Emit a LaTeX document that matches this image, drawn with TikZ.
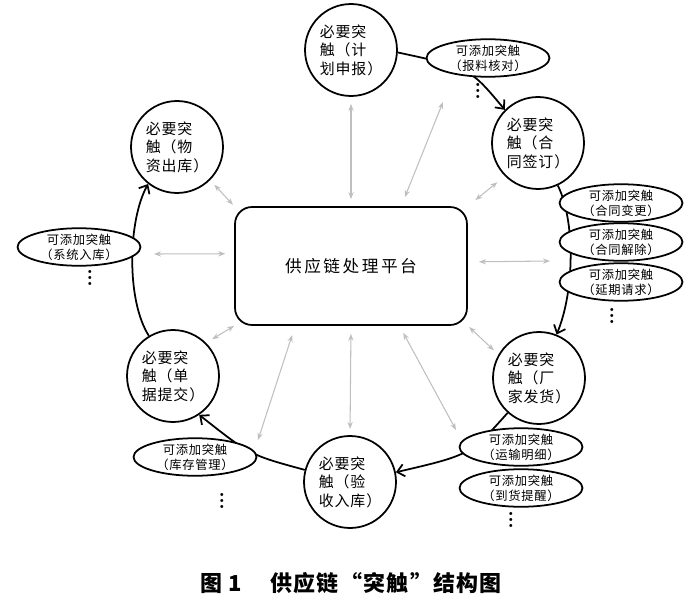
\documentclass[tikz,border=0pt]{standalone}
\usepackage{fontspec}
\newfontfamily\cjk[LetterSpace=6]{Noto Sans CJK SC}
\newfontfamily\cjkw[LetterSpace=15]{Noto Sans CJK SC}
\newfontfamily\capfont[LetterSpace=6]{Noto Sans CJK SC}
\newcommand\vdts{\vbox{\baselineskip3.4pt\lineskiplimit0pt\hbox{.}\hbox{.}\hbox{.}}}
\usetikzlibrary{shapes.geometric,arrows.meta}
\begin{document}
\begin{tikzpicture}[x=0.02cm,y=-0.02cm,>={Straight Barb[length=4pt,width=7pt]},
    bx/.style={circle,draw,line width=1pt,minimum size=1.84cm,inner sep=0pt,align=left,font=\cjk\fontsize{8.5}{10.5}\selectfont},
    opt/.style={ellipse,draw,fill=white,line width=1pt,minimum width=2.46cm,minimum height=0.6cm,inner sep=0pt,align=center,font=\cjk\fontsize{7}{8.5}\selectfont},
    cyc/.style={->,line width=1pt},
    gar/.style={{Stealth[length=4pt,width=3pt]}-{Stealth[length=4pt,width=3pt]},gray!50,line width=.6pt}]
    \useasboundingbox (0,0) rectangle (700,605);
    \node[draw,rounded corners=.34cm,line width=1pt,minimum width=4.64cm,minimum height=2.36cm,font=\cjkw\fontsize{9.5}{11}\selectfont] (pt) at (351,266) {供应链处理平台};
    \node[bx] (jh) at (351,50) {必要突\\触（计\\划申报）};
    \node[bx] (ht) at (538,143) {必要突\\触（合\\同签订）};
    \node[bx] (cf) at (539,378) {必要突\\触（厂\\家发货）};
    \node[bx] (yr) at (350,482) {必要突\\触（验\\收入库）};
    \node[bx] (dj) at (173,376) {必要突\\触（单\\据提交）};
    \node[bx] (wz) at (177,147) {必要突\\触（物\\资出库）};
    \draw[cyc] (jh.-3) .. controls (470,68) .. (ht.135);
    \draw[cyc] (ht.-65) .. controls (575,220) and (575,290) .. (cf.68);
    \draw[cyc] (cf.-132) .. controls (470,455) .. (yr.12);
    \draw[cyc] (yr.165) .. controls (250,455) .. (dj.-56);
    \draw[cyc] (dj.121) .. controls (126,300) and (128,220) .. (wz.-128);
    \coordinate (c1) at (443,102);
    \coordinate (c2) at (550,261);
    \coordinate (c3) at (154,254);
    \coordinate (c4) at (258,440);
    \coordinate (c5) at (456,430);
    \draw[gar,shorten <=4pt,shorten >=4pt] (pt.north) -- (jh.south);
    \draw[gar,shorten <=5.5pt] (pt.50) -- (c1);
    \draw[gar,shorten <=5.5pt,shorten >=5.5pt] (pt.north east) -- (ht.-135);
    \draw[gar,shorten <=6.3pt] (pt.2.5) -- (c2);
    \draw[gar,shorten <=1pt,shorten >=3.5pt] (pt.south east) -- (cf.150);
    \draw[gar,shorten <=1pt,shorten >=3.5pt] (pt.north west) -- (wz.-45);
    \draw[gar,shorten <=5pt] (pt.174) -- (c3);
    \draw[gar,shorten >=4pt] (pt.south west) -- (dj.45);
    \draw[gar,shorten <=5.5pt] (pt.227.5) -- (c4);
    \draw[gar,shorten <=4.5pt,shorten >=3.5pt] (pt.south) -- (yr.north);
    \draw[gar,shorten <=4.5pt] (pt.-51) -- (c5);
    \foreach \x/\y/\n/\t in {488/58/bl/报料核对,79/247/xt/系统入库,621/203/bg/合同变更,621/242/jc/合同解除,621/282/yq/延期请求,521/447/ys/运输明细,521/488/dh/到货提醒,195/457/kc/库存管理}
    \node[opt] (\n) at (\x,\y) {可添加突触\\（\t）};
    \foreach \x/\y/\n in {478/91/d1,90/278/d2,612/316/d3,222/501/d4,511/520/d5}
    \node[inner sep=0pt,font=\bfseries\large] (\n) at (\x,\y) {\vdts};
    \node[font=\capfont\bfseries\fontsize{12.5}{14}\selectfont] (cap) at (351,583) {图 1\hspace{1.3em}供应链“突触”结构图};
\end{tikzpicture}
\end{document}
